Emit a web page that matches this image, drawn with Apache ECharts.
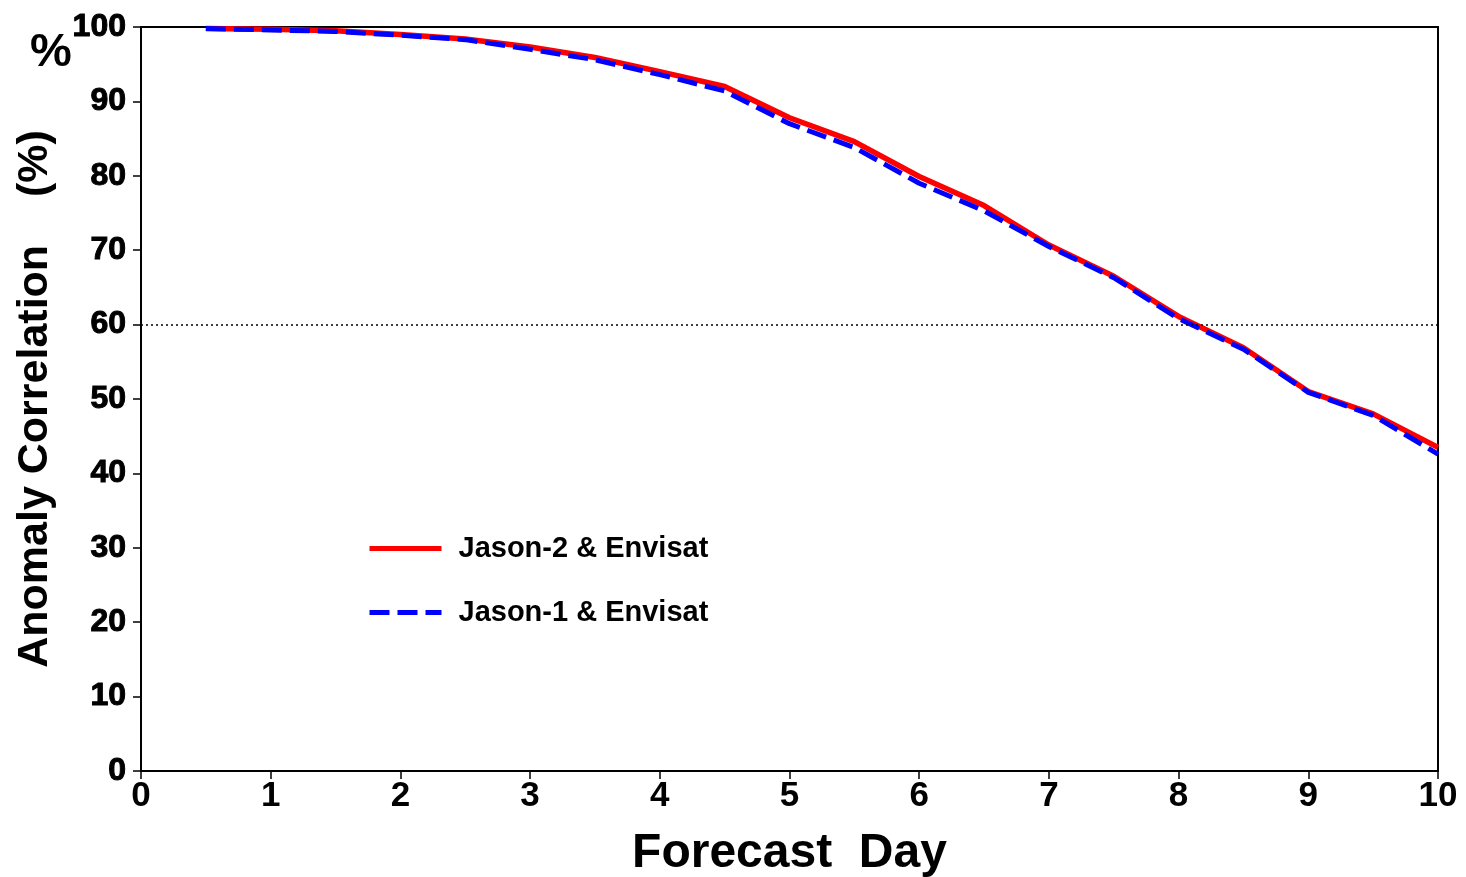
<!DOCTYPE html>
<html>
<head>
<meta charset="utf-8">
<script src="https://cdn.jsdelivr.net/npm/echarts@6/dist/echarts.min.js"></script>
<style>
html,body{margin:0;padding:0;background:#fff;}
#c{width:1466px;height:877px;}
</style>
</head>
<body>
<div id="c"></div>
<script>
const days = [0.5,1,1.5,2,2.5,3,3.5,4,4.5,5,5.5,6,6.5,7,7.5,8,8.5,9,9.5,10];
const jason2Envisat = [99.8,99.7,99.5,99.0,98.4,97.3,95.9,94.0,92.0,87.8,84.6,79.9,76.0,70.7,66.5,61.1,56.9,51.0,48.0,43.5];
const jason1Envisat = [99.8,99.6,99.4,98.9,98.3,97.0,95.6,93.6,91.4,87.0,83.8,79.0,75.3,70.5,66.3,60.8,56.7,50.9,47.8,42.6];
const xTicks = [0,1,2,3,4,5,6,7,8,9,10];
const yTicks = [0,10,20,30,40,50,60,70,80,90,100];
const threshold = 60;

const pair = (xs, ys) => xs.map((x, i) => [x, ys[i]]);
const chart = echarts.init(document.getElementById('c'));
chart.setOption({
  animation: false,
  backgroundColor: '#fff',
  grid: { left: 141, right: 28, top: 27, bottom: 106, containLabel: false, outerBoundsMode: 'none',
    show: true, borderColor: '#000', borderWidth: 2, backgroundColor: 'transparent' },
  legend: {
    orient: 'vertical', left: 362, top: 529, itemWidth: 72, itemHeight: 26, itemGap: 35,
    itemStyle: { opacity: 0 },
    lineStyle: { width: 5 },
    textStyle: { fontFamily: 'Liberation Sans, Arial', fontWeight: 'bold', fontSize: 29, color: '#000', padding: [0,0,0,12] },
    data: ['Jason-2 & Envisat', 'Jason-1 & Envisat']
  },
  xAxis: {
    type: 'value', min: 0, max: 10, interval: 1,
    axisLine: { show: true, lineStyle: { color: '#000', width: 2 } },
    axisTick: { show: true, length: 8, inside: false, lineStyle: { color: '#000', width: 1.5 } },
    splitLine: { show: false },
    axisLabel: { margin: 8, color: '#000', fontFamily: 'Liberation Sans, Arial', fontWeight: 'bold', fontSize: 35,
      formatter: v => xTicks.includes(v) ? String(v) : '' },
    name: 'Forecast  Day', nameLocation: 'middle', nameGap: 59,
    nameTextStyle: { color: '#000', fontFamily: 'Liberation Sans, Arial', fontWeight: 'bold', fontSize: 48 }
  },
  yAxis: {
    type: 'value', min: 0, max: 100, interval: 10,
    axisLine: { show: true, lineStyle: { color: '#000', width: 2 } },
    axisTick: { show: true, length: 8, lineStyle: { color: '#000', width: 1.5 } },
    splitLine: { show: false },
    axisLabel: { margin: 15, color: '#000', fontFamily: 'Liberation Sans, Arial', fontWeight: 'bold', fontSize: 32,
      textBorderColor: '#000', textBorderWidth: 1,
      formatter: v => yTicks.includes(v) ? String(v) : '' },
    name: 'Anomaly Correlation    (%)', nameLocation: 'middle', nameGap: 84, nameRotate: 90,
    nameTextStyle: { color: '#000', fontFamily: 'Liberation Sans, Arial', fontWeight: 'bold', fontSize: 43 }
  },
  graphic: [{
    type: 'text', left: 30, top: 30,
    style: { text: '%', fill: '#000', font: 'bold 47px "Liberation Sans", Arial' }
  }],
  series: [
    {
      name: 'Jason-2 & Envisat', type: 'line', data: pair(days, jason2Envisat), symbol: 'none', z: 3,
      lineStyle: { color: '#ff0000', width: 5.5 }, itemStyle: { color: '#ff0000' },
      markLine: {
        silent: true, symbol: 'none', label: { show: false },
        lineStyle: { color: '#000', type: [2, 3], width: 1.5 },
        data: [{ yAxis: threshold }]
      }
    },
    {
      name: 'Jason-1 & Envisat', type: 'line', data: pair(days, jason1Envisat), symbol: 'none', z: 4,
      lineStyle: { color: '#0000ff', width: 5, type: [20, 8] }, itemStyle: { color: '#0000ff' }
    }
  ]
});
</script>
</body>
</html>
